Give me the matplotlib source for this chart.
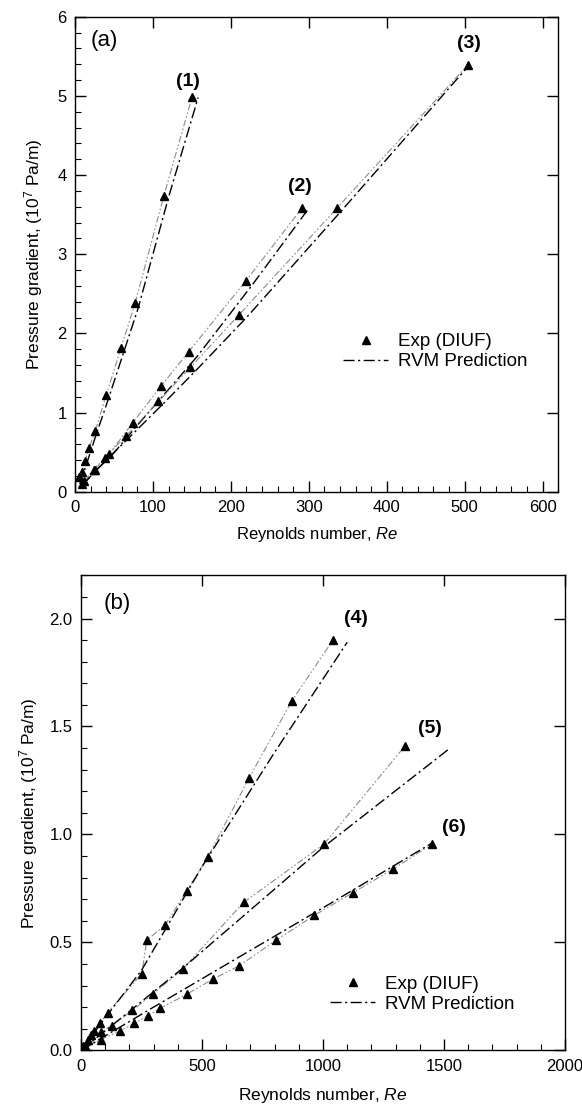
import matplotlib
matplotlib.use("Agg")
import matplotlib.pyplot as plt
from matplotlib.ticker import MultipleLocator, FormatStrFormatter

plt.rcParams['font.family'] = ['Liberation Sans', 'DejaVu Sans']
plt.rcParams['mathtext.fontset'] = 'custom'
plt.rcParams['mathtext.rm'] = 'Liberation Sans'
plt.rcParams['mathtext.it'] = 'Liberation Sans:italic'

# ---------------- panel (a) data ----------------
re1_exp = [5, 9, 13, 18, 26, 40, 59, 77, 114, 150]
dp1_exp = [0.18, 0.25, 0.39, 0.55, 0.77, 1.22, 1.82, 2.38, 3.74, 4.98]
re1_pred = [6, 14, 27, 42, 62, 81, 120, 158]
dp1_pred = [0.10, 0.33, 0.72, 1.15, 1.75, 2.32, 3.72, 4.98]

re2_exp = [11, 25, 44, 74, 110, 146, 219, 291]
dp2_exp = [0.13, 0.28, 0.48, 0.87, 1.33, 1.77, 2.66, 3.58]
re2_pred = [11, 27, 48, 80, 118, 156, 228, 300]
dp2_pred = [0.10, 0.27, 0.47, 0.84, 1.27, 1.70, 2.62, 3.58]

re3_exp = [9, 24, 38, 65, 107, 148, 210, 336, 504]
dp3_exp = [0.10, 0.28, 0.43, 0.70, 1.14, 1.57, 2.23, 3.58, 5.39]
re3_pred = [9, 26, 42, 70, 113, 155, 220, 342, 506]
dp3_pred = [0.08, 0.26, 0.42, 0.69, 1.11, 1.53, 2.20, 3.55, 5.39]

labels_a = ['(1)', '(2)', '(3)']
label_pos_a = [(145, 5.18), (288, 3.85), (506, 5.66)]

# ---------------- panel (b) data ----------------
re4_exp = [10, 30, 55, 78, 111, 252, 272, 348, 438, 524, 694, 872, 1041]
dp4_exp = [0.02, 0.05, 0.09, 0.125, 0.175, 0.355, 0.51, 0.58, 0.74, 0.895, 1.26, 1.62, 1.90]
re4_pred = [0, 100, 250, 500, 800, 1100]
dp4_pred = [0.0, 0.15, 0.37, 0.85, 1.38, 1.89]

re5_exp = [15, 41, 82, 128, 213, 296, 420, 672, 1004, 1339]
dp5_exp = [0.02, 0.07, 0.083, 0.115, 0.185, 0.26, 0.375, 0.685, 0.955, 1.41]
re5_pred = [0, 200, 420, 700, 1000, 1525]
dp5_pred = [0.0, 0.18, 0.38, 0.65, 0.94, 1.40]

re6_exp = [20, 82, 163, 220, 276, 328, 438, 545, 652, 806, 964, 1123, 1290, 1450]
dp6_exp = [0.01, 0.05, 0.09, 0.125, 0.16, 0.195, 0.26, 0.33, 0.39, 0.51, 0.625, 0.73, 0.84, 0.955]
re6_pred = [0, 300, 650, 1000, 1450]
dp6_pred = [0.0, 0.20, 0.43, 0.66, 0.96]

labels_b = ['(4)', '(5)', '(6)']
label_pos_b = [(1137, 2.0), (1442, 1.49), (1542, 1.03)]

ylabel = r'Pressure gradient, (10$^7$ Pa/m)'
xlabel = r'Reynolds number, $\mathit{Re}$'

fig = plt.figure(figsize=(5.82, 11.15), dpi=100)
ax1 = fig.add_axes([0.129, 0.559, 0.830, 0.426])
ax2 = fig.add_axes([0.139, 0.058, 0.832, 0.426])

def style(ax):
    for s in ax.spines.values():
        s.set_linewidth(1.0)
    ax.tick_params(which='major', direction='in', length=8, width=1.0,
                   top=True, right=True, labelsize=12, pad=6)
    ax.tick_params(which='minor', direction='in', length=4, width=0.8,
                   top=False, right=False)

def draw(ax, exp_sets, pred_sets):
    first = True
    for (rx, dx), (rp, dpp) in zip(exp_sets, pred_sets):
        ax.plot(rx, dx, color='0.55', lw=0.8, ls=(0, (6, 2, 1.5, 2, 1.5, 2)), zorder=2)
        ax.plot(rp, dpp, color='black', lw=1.0, ls=(0, (8, 2.5, 1.5, 2.5)),
                label='RVM Prediction' if first else None, zorder=2)
        ax.plot(rx, dx, ls='none', marker='^', ms=6, color='black',
                label='Exp (DIUF)' if first else None, zorder=3)
        first = False

draw(ax1, [(re1_exp, dp1_exp), (re2_exp, dp2_exp), (re3_exp, dp3_exp)],
     [(re1_pred, dp1_pred), (re2_pred, dp2_pred), (re3_pred, dp3_pred)])
ax1.set_xlim(0, 620)
ax1.set_ylim(0, 6)
ax1.xaxis.set_major_locator(MultipleLocator(100))
ax1.xaxis.set_minor_locator(MultipleLocator(20))
ax1.yaxis.set_major_locator(MultipleLocator(1))
ax1.yaxis.set_minor_locator(MultipleLocator(0.2))
style(ax1)
ax1.set_xlabel(xlabel, fontsize=12, labelpad=7)
ax1.set_ylabel(ylabel, fontsize=12.5, labelpad=9)
for t, (x, y) in zip(labels_a, label_pos_a):
    ax1.text(x, y, t, fontsize=14, fontweight='bold', ha='center', va='center')
ax1.text(38, 5.7, '(a)', fontsize=16, ha='center', va='center')
h, l = ax1.get_legend_handles_labels()
order = [l.index('Exp (DIUF)'), l.index('RVM Prediction')]
ax1.legend([h[i] for i in order], [l[i] for i in order], loc='center left',
           bbox_to_anchor=(0.52, 0.295), frameon=False, fontsize=13.5,
           handlelength=2.4, handletextpad=0.5, labelspacing=0.15)

draw(ax2, [(re4_exp, dp4_exp), (re5_exp, dp5_exp), (re6_exp, dp6_exp)],
     [(re4_pred, dp4_pred), (re5_pred, dp5_pred), (re6_pred, dp6_pred)])
ax2.set_xlim(0, 2000)
ax2.set_ylim(0, 2.2)
ax2.xaxis.set_major_locator(MultipleLocator(500))
ax2.xaxis.set_minor_locator(MultipleLocator(100))
ax2.yaxis.set_major_locator(MultipleLocator(0.5))
ax2.yaxis.set_minor_locator(MultipleLocator(0.1))
ax2.yaxis.set_major_formatter(FormatStrFormatter('%.1f'))
style(ax2)
ax2.set_xlabel(xlabel, fontsize=12.5, labelpad=9)
ax2.set_ylabel(ylabel, fontsize=12.5, labelpad=7)
for t, (x, y) in zip(labels_b, label_pos_b):
    ax2.text(x, y, t, fontsize=14, fontweight='bold', ha='center', va='center')
ax2.text(152, 2.07, '(b)', fontsize=16, ha='center', va='center')
h, l = ax2.get_legend_handles_labels()
order = [l.index('Exp (DIUF)'), l.index('RVM Prediction')]
ax2.legend([h[i] for i in order], [l[i] for i in order], loc='center left',
           bbox_to_anchor=(0.48, 0.118), frameon=False, fontsize=13.5,
           handlelength=2.4, handletextpad=0.5, labelspacing=0.15)

fig.savefig('out.png', dpi=100)
